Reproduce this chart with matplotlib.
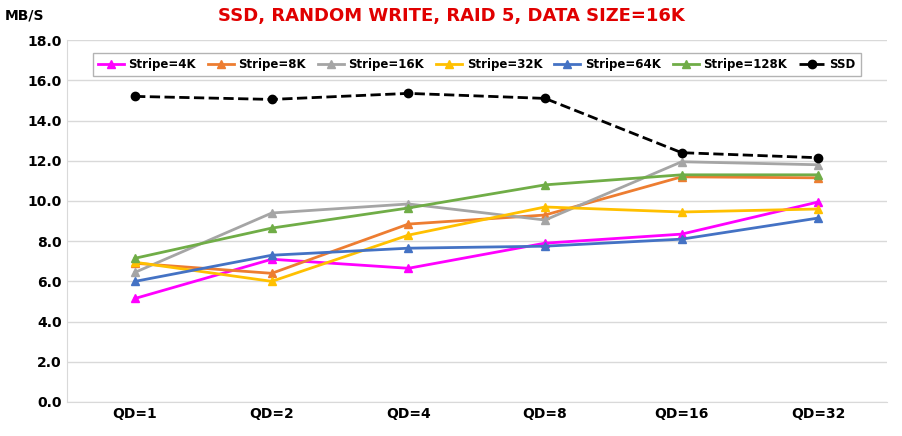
import matplotlib
matplotlib.use("Agg")
import matplotlib.pyplot as plt

categories = ["QD=1", "QD=2", "QD=4", "QD=8", "QD=16", "QD=32"]
s4k = [5.15, 7.1, 6.65, 7.9, 8.35, 9.95]
s8k = [6.9, 6.4, 8.85, 9.3, 11.2, 11.15]
s16k = [6.45, 9.4, 9.85, 9.05, 11.95, 11.8]
s32k = [6.95, 6.0, 8.3, 9.7, 9.45, 9.6]
s64k = [6.0, 7.3, 7.65, 7.75, 8.1, 9.15]
s128k = [7.15, 8.65, 9.65, 10.8, 11.3, 11.3]
ssd = [15.2, 15.05, 15.35, 15.1, 12.4, 12.15]

series = [("Stripe=4K", s4k, "#ff00ff", "^", "-"),
          ("Stripe=8K", s8k, "#ed7d31", "^", "-"),
          ("Stripe=16K", s16k, "#a5a5a5", "^", "-"),
          ("Stripe=32K", s32k, "#ffc000", "^", "-"),
          ("Stripe=64K", s64k, "#4472c4", "^", "-"),
          ("Stripe=128K", s128k, "#70ad47", "^", "-"),
          ("SSD", ssd, "#000000", "o", "--")]

fig = plt.figure(figsize=(9.02, 4.36), dpi=100)
ax = fig.add_axes([0.074, 0.078, 0.909, 0.83])
x = range(len(categories))
for name, vals, c, m, ls in series:
    ax.plot(x, vals, color=c, marker=m, linestyle=ls, linewidth=2, markersize=6, label=name)
ax.set_xlim(-0.5, 5.5)
ax.set_ylim(0, 18)
ax.set_yticks([i * 2 for i in range(10)])
ax.set_yticklabels([f"{i*2:.1f}" for i in range(10)], fontweight="bold", fontsize=10)
ax.set_xticks(list(x))
ax.set_xticklabels(categories, fontweight="bold", fontsize=10)
ax.grid(axis="y", color="#d9d9d9", linewidth=1)
ax.set_axisbelow(True)
for sp in ax.spines.values():
    sp.set_color("#d9d9d9")
ax.spines["top"].set_visible(False)
ax.spines["right"].set_visible(False)
ax.tick_params(length=0)
fig.text(0.005, 0.955, "MB/S", fontsize=10, fontweight="bold")
fig.suptitle("SSD, RANDOM WRITE, RAID 5, DATA SIZE=16K", color="#e00000", fontweight="bold",
             fontsize=13, y=0.985)
leg = ax.legend(ncol=7, loc="upper center", bbox_to_anchor=(0.5, 0.98),
                prop={"weight": "bold", "size": 8.5}, fancybox=False, edgecolor="#a0a0a0",
                handlelength=2.2, columnspacing=1.0, handletextpad=0.4)
fig.savefig("out.png", dpi=100)
